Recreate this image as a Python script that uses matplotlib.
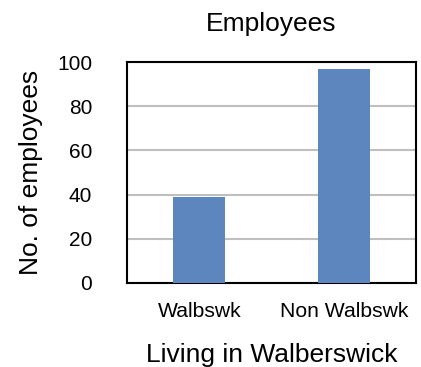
import matplotlib.pyplot as plt

# employees split by whether they live in Walberswick
categories = ['Walbswk', 'Non Walbswk']
employees = [39, 97]
yticks = [0, 20, 40, 60, 80, 100]

plt.rcParams['font.family'] = ['Liberation Sans', 'DejaVu Sans']

fig = plt.figure(figsize=(4.21, 3.67), dpi=100)
ax = fig.add_axes([127 / 421, 1 - 283 / 367, 289 / 421, 221 / 367])

ax.bar(range(len(categories)), employees, width=0.36, color='#5c86bd', zorder=3)

ax.set_xlim(-0.5, 1.5)
ax.set_ylim(0, 100)
ax.set_yticks(yticks)
ax.set_xticks(range(len(categories)))
ax.set_xticklabels(categories)
ax.yaxis.grid(True, color='#bfbfbf', linewidth=1.5, zorder=0)
ax.tick_params(axis='y', length=0, pad=25, labelsize=15)
ax.tick_params(axis='x', length=0, pad=13.5, labelsize=15.2)
for s in ax.spines.values():
    s.set_linewidth(1.5)
    s.set_color('black')

ax.set_title('Employees', fontsize=19, pad=22)
ax.set_xlabel('Living in Walberswick', fontsize=19, labelpad=16)
ax.set_ylabel('No. of employees', fontsize=19, labelpad=10)

plt.savefig('out.png', dpi=100)
plt.close()
